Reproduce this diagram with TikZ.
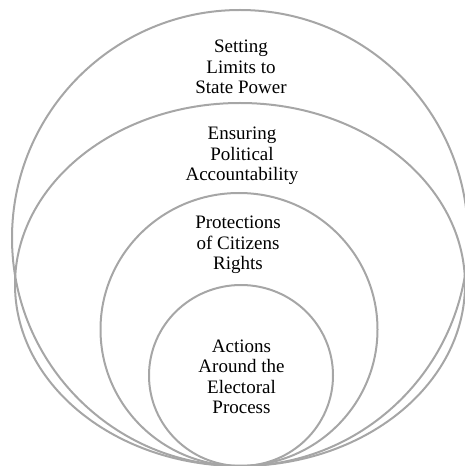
\documentclass[tikz,border=0pt]{standalone}
\usepackage{fontspec}
\setmainfont{Liberation Serif}
\usepackage{tikz}

\begin{document}
\begin{tikzpicture}[line cap=round,line join=round,x=1pt,y=1pt,
  ring/.style={draw=ringgray,line width=2pt},
  lbl/.style={align=center,font=\fontsize{19}{20.5}\selectfont,text=black}]
\definecolor{ringgray}{RGB}{166,166,166}
\useasboundingbox (0,0) rectangle (464,466);
% nested rings, all touching at the bottom
\draw [ring] (240,228) ellipse (228 and 228);
\draw [ring] (240,181.5) ellipse (225 and 181.5);
\draw [ring] (239,136.5) ellipse (138.5 and 136.5);
\draw [ring] (241,90.5) ellipse (92 and 90.5);
% labels
\node [lbl] (limits) at (241,399) {Setting\\Limits to\\State Power};
\node [lbl] (account) at (242,310) {Ensuring\\Political\\Accountability};
\node [lbl] (rights) at (238,221) {Protections\\of Citizens\\Rights};
\node [lbl] (electoral) at (241.5,89) {Actions\\Around the\\Electoral\\Process};
\end{tikzpicture}
\end{document}
